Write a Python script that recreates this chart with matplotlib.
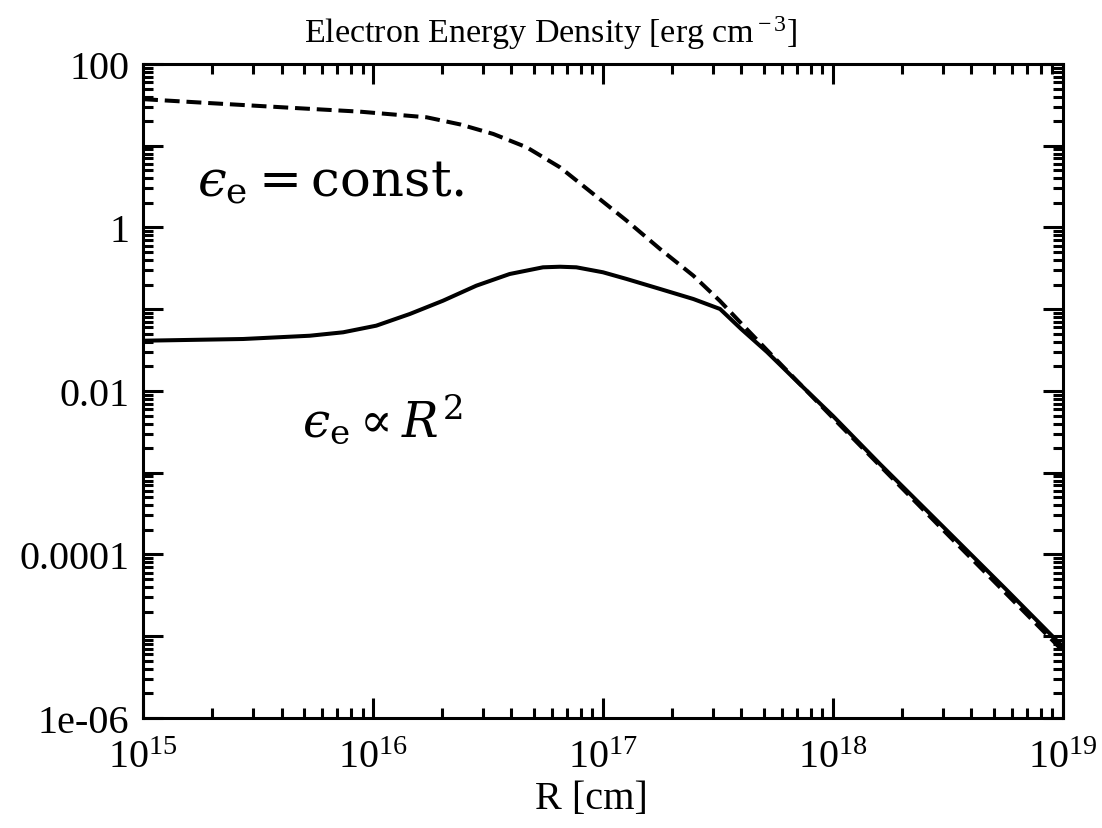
import numpy as np
import matplotlib
matplotlib.use("Agg")
import matplotlib.pyplot as plt
from matplotlib.ticker import FixedLocator, LogLocator, NullFormatter

plt.rcParams['font.family'] = ['Liberation Serif', 'DejaVu Serif']
plt.rcParams['mathtext.fontset'] = 'custom'
plt.rcParams['mathtext.rm'] = 'Liberation Serif'
plt.rcParams['mathtext.it'] = 'Liberation Serif:italic'

# --- data (log10 values) ---
solid_logR = [15.0, 15.435, 15.725, 15.870, 16.014, 16.160, 16.304, 16.449, 16.594, 16.739,
              16.813, 16.884, 17.0, 17.103, 17.248, 17.393, 17.509, 17.6, 17.713, 17.85,
              18.0, 18.204, 18.5, 18.75, 19.0]
solid_logE = [-1.385, -1.364, -1.324, -1.282, -1.201, -1.058, -0.896, -0.712, -0.569, -0.487,
              -0.480, -0.487, -0.548, -0.630, -0.752, -0.875, -0.997, -1.24, -1.523, -1.90,
              -2.306, -2.893, -3.72, -4.42, -5.13]

dashed_logR = [15.0, 15.3, 15.67, 15.943, 16.233, 16.38, 16.523, 16.668, 16.813, 16.958,
               17.103, 17.248, 17.393, 17.509, 17.6, 17.713, 18.0, 18.5, 19.0]
dashed_logE = [1.57, 1.52, 1.46, 1.417, 1.348, 1.26, 1.144, 0.981, 0.736, 0.410,
               0.083, -0.263, -0.590, -0.90, -1.17, -1.50, -2.33, -3.76, -5.18]

x_ticks = [1e15, 1e16, 1e17, 1e18, 1e19]
x_ticklabels = [r'$10^{15}$', r'$10^{16}$', r'$10^{17}$', r'$10^{18}$', r'$10^{19}$']
y_ticks = [1e2, 1e1, 1e0, 1e-1, 1e-2, 1e-3, 1e-4, 1e-5, 1e-6]
y_ticklabels = ['100', '', '1', '', '0.01', '', '0.0001', '', '1e-06']

R_s = 10.0 ** np.array(solid_logR)
E_s = 10.0 ** np.array(solid_logE)
R_d = 10.0 ** np.array(dashed_logR)
E_d = 10.0 ** np.array(dashed_logE)

fig = plt.figure(figsize=(11.02, 8.29), dpi=100)
ax = fig.add_axes([0.1298, 0.1327, 0.9646 - 0.1298, 0.9216 - 0.1327])

ax.plot(R_d, E_d, color='black', lw=2.9, dashes=(3.7, 1.7))
ax.plot(R_s, E_s, color='black', lw=2.9, solid_capstyle='butt', solid_joinstyle='round')

ax.set_xscale('log')
ax.set_yscale('log')
ax.set_xlim(1e15, 1e19)
ax.set_ylim(1e-6, 1e2)

ax.xaxis.set_major_locator(FixedLocator(x_ticks))
ax.set_xticklabels(x_ticklabels)
ax.xaxis.set_minor_locator(LogLocator(base=10, subs=np.arange(2, 10), numticks=50))
ax.xaxis.set_minor_formatter(NullFormatter())
ax.yaxis.set_major_locator(FixedLocator(y_ticks))
ax.set_yticklabels(y_ticklabels)
ax.yaxis.set_minor_locator(LogLocator(base=10, subs=np.arange(2, 10), numticks=50))
ax.yaxis.set_minor_formatter(NullFormatter())

ax.tick_params(which='both', direction='in', top=True, right=True, width=2.2, labelsize=29)
ax.tick_params(which='major', length=14.4)
ax.tick_params(axis='x', which='major', pad=15)
ax.tick_params(axis='y', which='major', pad=10)
ax.tick_params(which='minor', length=7.5)
for s in ax.spines.values():
    s.set_linewidth(2.2)

ax.set_title(r'Electron Energy Density [erg cm$^{\rm -3}$]', fontsize=24.5, pad=16,
             x=0.4435)
ax.set_xlabel('R [cm]', fontsize=29, labelpad=3, x=0.487)

ax.text(0.0587, 0.798, r'$ϵ_{\rm e} = {\rm const.}$', transform=ax.transAxes,
        fontsize=37, va='baseline', ha='left', math_fontfamily='dejavuserif')
ax.text(0.173, 0.431, r'$ϵ_{\rm e} \propto R^2$', transform=ax.transAxes,
        fontsize=35, va='baseline', ha='left', math_fontfamily='dejavuserif')

fig.savefig('out.png', dpi=100)
